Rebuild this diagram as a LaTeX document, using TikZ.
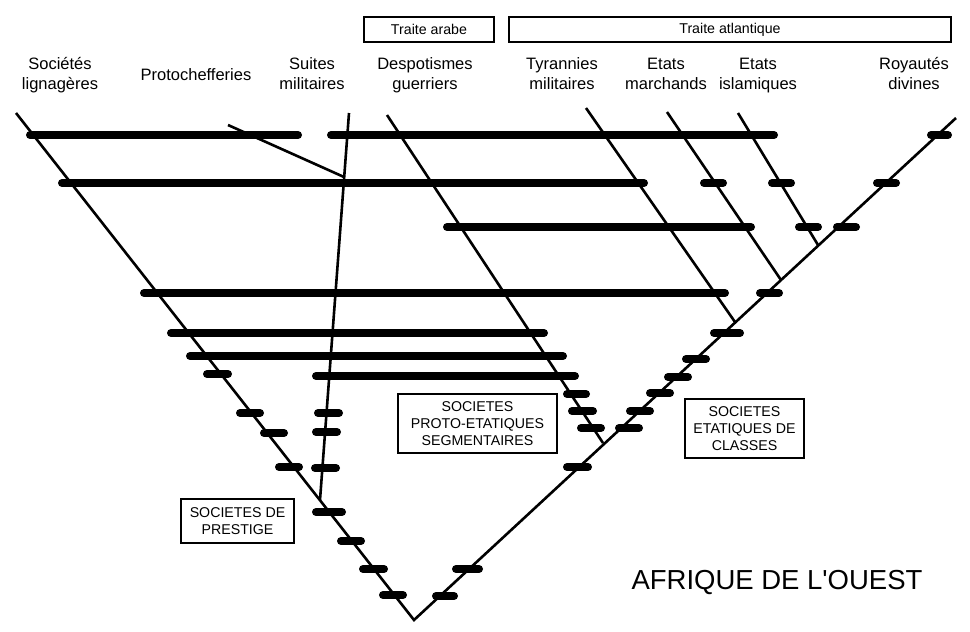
\documentclass[tikz,border=0pt]{standalone}
\usepackage{fontspec}
\setmainfont{Liberation Sans}[Ligatures=TeXOff]
\newcommand\hb[3]{\draw[hbar] (#1,#3) -- (#2,#3);}
\newcommand\mystr{\strut}
\begin{document}
\begin{tikzpicture}[x=1pt,y=-1pt,
  arm/.style={line width=2.6pt},
  hbar/.style={line width=8pt, line cap=round, shorten <=4pt, shorten >=4pt},
  lab/.style={align=center, font=\fontsize{16.5}{20}\selectfont, inner sep=0pt},
  box/.style={draw, line width=1.2pt, inner sep=0pt, align=center, font=\fontsize{14.2}{17.3}\selectfont}]
\useasboundingbox (0,0) rectangle (970,632);

% top labels
\node[lab] (soc) at (60,75) {\mystr Sociétés\\\mystr lignagères};
\node[lab] (proto) at (196,75) {Protochefferies};
\node[lab] (suites) at (312,75) {\mystr Suites\\\mystr militaires};
\node[lab] (desp) at (425,75) {\mystr Despotismes\\\mystr guerriers};
\node[lab] (tyr) at (562,75) {\mystr Tyrannies\\\mystr militaires};
\node[lab] (march) at (666,75) {\mystr Etats\\\mystr marchands};
\node[lab] (isl) at (758,75) {\mystr Etats\\\mystr islamiques};
\node[lab] (roy) at (914,75) {\mystr Royautés\\\mystr divines};

% boxes
\node[box, minimum width=130pt, minimum height=25pt] (arabe) at (429,29.5) {Traite arabe};
\node[box, minimum width=442pt, minimum height=25pt] (atl) at (730,29.5) {Traite atlantique};
\node[box, minimum width=159pt, minimum height=59pt] (pes) at (477.5,423.5) {SOCIETES\\PROTO-ETATIQUES\\SEGMENTAIRES};
\node[box, minimum width=119pt, minimum height=59pt] (edc) at (744.5,428.5) {SOCIETES\\ETATIQUES DE\\CLASSES};
\node[box, minimum width=113pt, minimum height=44pt] (sdp) at (237.5,521) {SOCIETES DE\\PRESTIGE};

\node[inner sep=0pt, font=\fontsize{27.5}{30}\selectfont] (afr) at (777,582) {AFRIQUE DE L'OUEST};

% skeleton lines
\coordinate (V) at (414,620);
\coordinate (L) at (16,113);
\coordinate (R) at (956,118);
\coordinate (S1) at (349,113);
\coordinate (S2) at (320,500);
\coordinate (P1) at (228,125);
\coordinate (P2) at (344,177);
\coordinate (D1) at (387,115);
\coordinate (D2) at (603,443);
\coordinate (T1) at (586,108);
\coordinate (T2) at (735,322);
\coordinate (M1) at (667,112);
\coordinate (M2) at (781,280);
\coordinate (I1) at (738,113);
\coordinate (I2) at (818,245);

\draw[arm] (L) -- (V) -- (R);
\draw[arm] (S1) -- (S2);
\draw[arm] (P1) -- (P2);
\draw[arm] (D1) -- (D2);
\draw[arm] (T1) -- (T2);
\draw[arm] (M1) -- (M2);
\draw[arm] (I1) -- (I2);

% horizontal bars
\hb{26}{302}{135}
\hb{327}{778}{135}
\hb{927}{952}{135}

\hb{58}{648}{183}
\hb{700}{727}{183}
\hb{768}{795}{183}
\hb{873}{900}{183}

\hb{443}{755}{227}
\hb{795}{822}{227}
\hb{833}{860}{227}

\hb{140}{729}{293}
\hb{756}{783}{293}

\hb{167}{548}{333}
\hb{710}{744}{333}

\hb{186}{567}{356}
\hb{682}{710}{359}

\hb{312}{579}{376}
\hb{203}{232}{374}
\hb{664}{692}{377}

\hb{563}{590}{394}
\hb{646}{674}{393}
\hb{568}{597}{411}
\hb{626}{654}{411}
\hb{577}{605}{428}
\hb{615}{643}{428}

% left arm
\hb{236}{264}{413}
\hb{260}{288}{433}
\hb{275}{303}{467}
\hb{312}{346}{512}
\hb{337}{365}{541}
\hb{359}{388}{569}
\hb{379}{407}{595}

% suites line
\hb{314}{343}{413}
\hb{312}{341}{432}
\hb{311}{340}{468}

% right arm lower
\hb{563}{592}{467}
\hb{452}{483}{569}
\hb{432}{458}{596}
\end{tikzpicture}
\end{document}
